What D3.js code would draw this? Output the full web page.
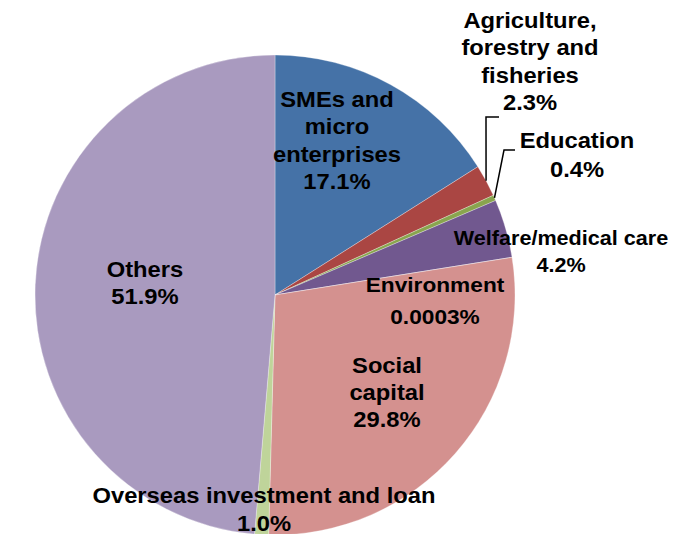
<!DOCTYPE html>
<html>
<head>
<meta charset="utf-8">
<script src="https://cdn.jsdelivr.net/npm/d3@7"></script>
<style>
  body { margin: 0; background: #fff; }
  svg text { font-family: "Liberation Sans", Arial, sans-serif; font-weight: bold; fill: #000; }
</style>
</head>
<body>
<script>
// shares as printed on the chart (they add up to 106.7, the pie normalises them)
var categories = ["SMEs and micro enterprises", "Agriculture, forestry and fisheries", "Education",
    "Welfare/medical care", "Environment", "Social capital", "Overseas investment and loan", "Others"];
var values = [17.1, 2.3, 0.4, 4.2, 0.0003, 29.8, 1.0, 51.9];
var valueLabels = ["17.1%", "2.3%", "0.4%", "4.2%", "0.0003%", "29.8%", "1.0%", "51.9%"];
var labelLines = [
    ["SMEs and", "micro", "enterprises"],
    ["Agriculture,", "forestry and", "fisheries"],
    ["Education"],
    ["Welfare/medical care"],
    ["Environment"],
    ["Social", "capital"],
    ["Overseas investment and loan"],
    ["Others"]
];
var colors = ["#4572A7", "#AA4643", "#89A54E", "#71588F", "#4198AF", "#D4918F", "#BFD49A", "#A99ABF"];

var width = 684,
    height = 534,
    cx = 275,
    cy = 295,
    radius = 240;

var svg = d3.select("body")
    .append("svg")
    .attr("width", width)
    .attr("height", height);

var pie = d3.pie()
    .sort(null)
    .value(function(d){ return d; });

var arc = d3.arc()
    .innerRadius(0)
    .outerRadius(radius);

var arcs = pie(values);

var g = svg.append("g")
    .attr("transform", "translate(" + cx + "," + cy + ")");

g.selectAll(".slice")
    .data(arcs)
    .enter()
    .append("path")
    .attr("class", "slice")
    .attr("d", arc)
    .attr("fill", function(d, i){ return colors[i]; })
    .attr("stroke", "#fff")
    .attr("stroke-opacity", 0.5)
    .attr("stroke-width", 0.6);

// label placement relative to pie centre: [x of text centre, first baseline, font size, line step, leader elbow]
var labelLayout = [
    {x: 62, y: -188, fs: 22, step: 27.5},
    {x: 255, y: -267, fs: 22, step: 27.3, elbow: [211, -178], lineEnd: [224, -178]},
    {x: 302, y: -147, fs: 22, step: 29, elbow: [229, -145], lineEnd: [240, -145]},
    {x: 286, y: -50, fs: 20, step: 27},
    {x: 160, y: -3, fs: 21, step: 32},
    {x: 112, y: 78, fs: 22, step: 27},
    {x: -11, y: 208, fs: 22, step: 28},
    {x: -130, y: -18, fs: 22, step: 27}
];

// leader lines for the two thin slices
arcs.forEach(function(d, i){
    var L = labelLayout[i];
    if (!L.elbow) return;
    var a = (d.startAngle + d.endAngle) / 2;
    var p0 = [radius * Math.sin(a), -radius * Math.cos(a)];
    g.append("polyline")
        .attr("points", [p0, L.elbow, L.lineEnd].map(function(p){ return p.join(","); }).join(" "))
        .attr("fill", "none")
        .attr("stroke", "#000")
        .attr("stroke-width", 1.5);
});

arcs.forEach(function(d, i){
    var L = labelLayout[i];
    var lines = labelLines[i].concat([valueLabels[i]]);
    var t = g.append("g")
        .attr("transform", "translate(" + L.x + "," + L.y + ") scale(1.08,1)");
    lines.forEach(function(s, k){
        t.append("text")
            .attr("x", 0)
            .attr("y", k * L.step)
            .attr("text-anchor", "middle")
            .style("font-size", L.fs + "px")
            .text(s);
    });
});
</script>
</body>
</html>
